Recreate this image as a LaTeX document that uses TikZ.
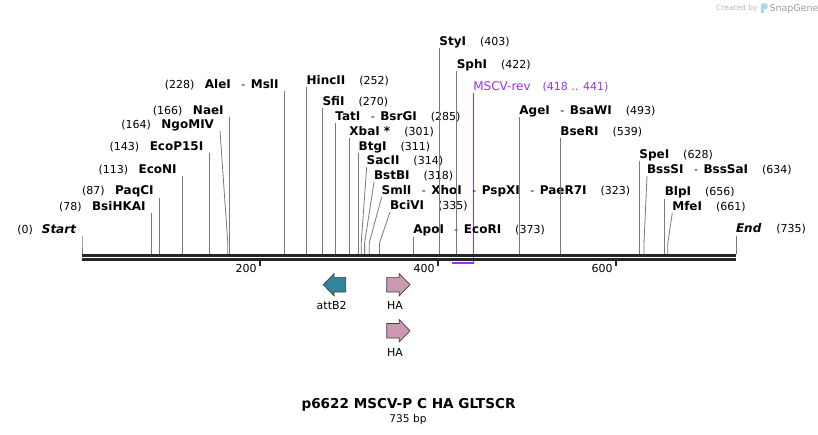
\documentclass[tikz,border=0pt]{standalone}
\usepackage{fontspec}
\setmainfont{DejaVu Sans}
\usetikzlibrary{calc}
\definecolor{siteg}{HTML}{7A7A7A}
\definecolor{bbone}{HTML}{262626}
\definecolor{purp}{HTML}{A030F0}
\definecolor{teal}{HTML}{31849B}
\definecolor{hapink}{HTML}{CC99B2}
\definecolor{snapblue}{HTML}{A8D4F2}
\newcommand\NumL[1]{{\fontsize{11}{13}\selectfont(#1)}}
\newcommand\Enz[1]{{\fontsize{12}{14}\selectfont\bfseries #1}}
\newcommand\Sepr{{\fontsize{11}{13}\selectfont\hspace{10.5pt}-\hspace{5.5pt}}}
\newcommand\RGap{\hspace{14pt}}
\newcommand\LGap{\hspace{10.5pt}}
% right-labelled site: id, top x, top y, bottom x, label
\newcommand\RSite[5]{%
  \coordinate (#1t) at (#2,#3);
  \coordinate (#1k) at (#4,243);
  \coordinate (#1b) at (#4,253.8);
  \draw[siteline] (#1t) -- (#1k) -- (#1b);
  \node[lbl,anchor=base west] (#1l) at ($(#1t)+(0,-2.6)$) {#5};
}
% left-labelled site
\newcommand\LSite[5]{%
  \coordinate (#1t) at (#2,#3);
  \coordinate (#1k) at (#4,243);
  \coordinate (#1b) at (#4,253.8);
  \draw[siteline] (#1t) -- (#1k) -- (#1b);
  \node[lbl,anchor=base east] (#1l) at ($(#1t)+(-6,-2.6)$) {#5};
}
\begin{document}
\begin{tikzpicture}[x=1pt,y=-1pt,
  siteline/.style={draw=siteg,line width=0.8pt},
  lbl/.style={inner sep=0pt,outer sep=0pt},
  featlbl/.style={inner sep=0pt,font=\fontsize{11}{13}\selectfont,anchor=base},
  ticklbl/.style={inner sep=0pt,font=\fontsize{11}{13}\selectfont,anchor=base east},
  backbone/.style={draw=bbone,line width=2.8pt},
  featout/.style={draw=black!75,line width=0.7pt,line join=miter}]
\useasboundingbox (0,0) rectangle (818,435);

% watermark
\node[lbl,anchor=base east,text=black!28,font=\fontsize{7.5}{9}\selectfont] (wm1) at (757.5,11) {Created by};
\fill[snapblue,rounded corners=1pt] (761,3.5) rectangle (767.5,9);
\fill[snapblue] (761,8) rectangle (763.6,13.5);
\node[lbl,anchor=base west,text=black!38,font=\fontsize{9.5}{11}\selectfont] (wm2) at (769.5,11.5) {SnapGene};

% MSCV-rev primer
\coordinate (mscvt) at (473.3,93);
\coordinate (mscvb) at (473.3,262.8);
\coordinate (mscvs) at (452.3,262.8);
\draw[purp,line width=1pt] (mscvt) -- (mscvb);
\draw[purp,line width=1.8pt] ($(mscvb)+(0.4,0)$) -- (mscvs);
\node[lbl,anchor=base west,text=purp] (mscvl) at ($(mscvt)+(0,-2)$)
  {{\fontsize{12}{14}\selectfont MSCV-rev}\hspace{12pt}{\fontsize{11}{13}\selectfont(418 .. 441)}};

% left-labelled sites
\LSite{start}{82}{236}{82}{\NumL{0}\hspace{9pt}{\fontsize{12}{14}\selectfont\bfseries\itshape Start}}
\LSite{bsi}{151.6}{213}{151.6}{\NumL{78}\LGap\Enz{BsiHKAI}}
\LSite{paq}{159.6}{197.6}{159.6}{\NumL{87}\LGap\Enz{PaqCI}}
\LSite{econi}{182.7}{176}{182.7}{\NumL{113}\LGap\Enz{EcoNI}}
\LSite{ecop}{209.3}{152.7}{209.3}{\NumL{143}\LGap\Enz{EcoP15I}}
\LSite{ngo}{220}{130.7}{227.8}{\NumL{164}\LGap\Enz{NgoMIV}}
\LSite{nae}{229.7}{116.7}{229.7}{\NumL{166}\LGap\Enz{NaeI}}
\LSite{ale}{284.5}{90.8}{284.5}{\NumL{228}\LGap\Enz{AleI}\Sepr\Enz{MslI}}

% right-labelled sites
\RSite{hinc}{306.6}{86.7}{306.6}{\Enz{HincII}\RGap\NumL{252}}
\RSite{sfi}{322.6}{108}{322.6}{\Enz{SfiI}\RGap\NumL{270}}
\RSite{tat}{335.4}{123.5}{335.4}{\Enz{TatI}\Sepr\Enz{BsrGI}\RGap\NumL{285}}
\RSite{xba}{349.4}{138}{349.4}{\Enz{XbaI *}\RGap\NumL{301}}
\RSite{btg}{358.7}{153}{358.7}{\Enz{BtgI}\RGap\NumL{311}}
\RSite{sac}{366.7}{167}{361.2}{\Enz{SacII}\RGap\NumL{314}}
\RSite{bstb}{374}{182}{364.6}{\Enz{BstBI}\RGap\NumL{318}}
\RSite{sml}{381.7}{197}{369.2}{\Enz{SmlI}\Sepr\Enz{XhoI}\Sepr\Enz{PspXI}\Sepr\Enz{PaeR7I}\RGap\NumL{323}}
\RSite{bci}{390}{212}{379.5}{\Enz{BciVI}\RGap\NumL{335}}
\RSite{apo}{413.4}{236.6}{413.4}{\Enz{ApoI}\Sepr\Enz{EcoRI}\RGap\NumL{373}}
\RSite{sty}{439.4}{48.2}{439.4}{\Enz{StyI}\RGap\NumL{403}}
\RSite{sph}{456.8}{70.8}{456.8}{\Enz{SphI}\RGap\NumL{422}}
\RSite{age}{519.4}{116.7}{519.4}{\Enz{AgeI}\Sepr\Enz{BsaWI}\RGap\NumL{493}}
\RSite{bse}{560.4}{138.5}{560.4}{\Enz{BseRI}\RGap\NumL{539}}
\RSite{spe}{639.4}{161.4}{639.4}{\Enz{SpeI}\RGap\NumL{628}}
\RSite{bss}{647}{176}{644}{\Enz{BssSI}\Sepr\Enz{BssSaI}\RGap\NumL{634}}
\RSite{blp}{664.8}{198.6}{664.8}{\Enz{BlpI}\RGap\NumL{656}}
\RSite{mfe}{672.3}{213}{667.8}{\Enz{MfeI}\RGap\NumL{661}}
\RSite{end}{736}{235.6}{736}{{\fontsize{12}{14}\selectfont\bfseries\itshape End}\hspace{15pt}\NumL{735}}

% backbone
\coordinate (bbl1) at (82,255.3);
\coordinate (bbr1) at (736,255.3);
\coordinate (bbl2) at (82,259.6);
\coordinate (bbr2) at (736,259.6);
\draw[backbone] (bbl1) -- (bbr1);
\draw[backbone] (bbl2) -- (bbr2);

% ticks
\foreach \tx/\tl in {259.5/200,437.5/400,615.6/600}{
  \draw[bbone,line width=2pt] (\tx,260.8) -- (\tx,266);
  \node[ticklbl] at (\tx-2.8,272.6) {\tl};
}

% features
\draw[featout,fill=teal] (345.7,277.4) -- (334,277.4) -- (334,273.7) -- (323.3,284.7) -- (334,295.8) -- (334,292) -- (345.7,292) -- cycle;
\node[featlbl] (attb2) at (331.7,309.7) {attB2};
\draw[featout,fill=hapink] (386.7,277.4) -- (399.3,277.4) -- (399.3,273.7) -- (410,284.7) -- (399.3,295.8) -- (399.3,292) -- (386.7,292) -- cycle;
\node[featlbl] (ha1) at (395,309.7) {HA};
\draw[featout,fill=hapink] (386.7,323.4) -- (399.3,323.4) -- (399.3,319.7) -- (410,330.7) -- (399.3,341.8) -- (399.3,338) -- (386.7,338) -- cycle;
\node[featlbl] (ha2) at (395,356) {HA};

% title
\node[lbl,anchor=base,font=\fontsize{13.6}{16}\selectfont\bfseries] (title) at (408.5,408.3) {p6622 MSCV-P C HA GLTSCR};
\node[lbl,anchor=base,font=\fontsize{10.6}{12}\selectfont] (bp) at (408,422.7) {735 bp};
\end{tikzpicture}
\end{document}
